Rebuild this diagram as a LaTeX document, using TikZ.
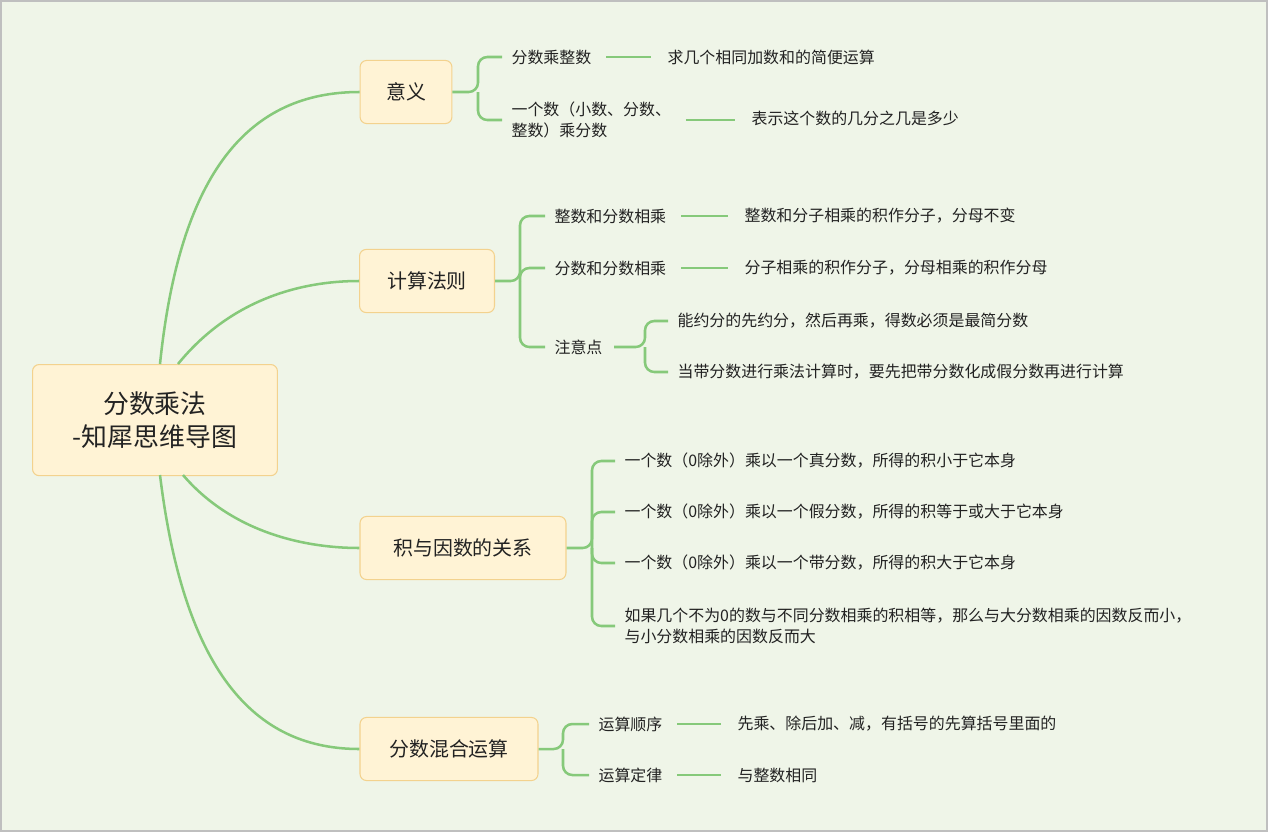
\documentclass[tikz,border=0pt]{standalone}
\usepackage{fontspec}
\setmainfont{Noto Sans CJK SC}
\begin{document}
\begin{tikzpicture}[x=0.02646cm,y=-0.02646cm,
  lnk/.style={draw=lg,line width=1.9pt},
  box/.style={draw=bd,fill=bx,rounded corners=5pt,line width=0.8pt,inner sep=0pt},
  leaf/.style={anchor=west,font=\fontsize{12pt}{15.5pt}\selectfont,text=tx,inner sep=1pt,align=left},
  brk/.style={lnk,rounded corners=7pt},
  brkc/.style={lnk,rounded corners=7pt,shorten >=6pt},
  dsh/.style={lnk,shorten <=10pt,shorten >=11pt}]
\definecolor{lg}{HTML}{86C97A}
\definecolor{bd}{HTML}{F3D28E}
\definecolor{bx}{HTML}{FFF3D5}
\definecolor{bgc}{HTML}{EFF5E8}
\definecolor{tx}{HTML}{222222}
\useasboundingbox (0,0) rectangle (1268,832);
\fill[bgc,draw=gray!50,line width=1pt] (1,1) rectangle (1267,831);
% root
\node[box,anchor=north west,minimum width=6.48cm,minimum height=2.94cm,align=center,font=\fontsize{19.5pt}{25pt}\selectfont,text=tx] (root) at (32,364) {分数乘法\\-知犀思维导图};
\coordinate (r1) at (160,364); \coordinate (r2) at (178,364);
\coordinate (r3) at (183,475); \coordinate (r4) at (160,475);
% level 1
\tikzset{l1/.style={box,minimum height=1.67cm,font=\fontsize{15pt}{18pt}\selectfont,text=tx}}
\node[l1,minimum width=2.43cm] (a) at (406,92) {意义};
\node[l1,minimum width=3.57cm] (b) at (427,281) {计算法则};
\node[l1,minimum width=5.45cm] (c) at (463,548) {积与因数的关系};
\node[l1,minimum width=4.71cm] (d) at (449,749) {分数混合运算};
\draw[lnk] (r1) .. controls (180,170) and (250,92) .. (a.west);
\draw[lnk] (r2) .. controls (230,300) and (300,281) .. (b.west);
\draw[lnk] (r3) .. controls (230,530) and (300,548) .. (c.west);
\draw[lnk] (r4) .. controls (185,680) and (260,749) .. (d.west);
% a
\node[leaf] (a1) at (510,57) {分数乘整数};
\node[leaf] (a1d) at (666,57) {求几个相同加数和的简便运算};
\node[leaf] (a2) at (510,120) {一个数（小数、分数、\\整数）乘分数};
\node[leaf] (a2d) at (750,118) {表示这个数的几分之几是多少};
\draw[brkc] (a.east) -- (478,92) |- (a1.west);
\draw[brkc] (478,92) |- (a2.west);
\draw[dsh] (a1.east) -- (a1d.west);
\draw[dsh] (a2.east) -- (a2d.west |- a2.east);
% b
\node[leaf] (b1) at (553,216) {整数和分数相乘};
\node[leaf] (b1d) at (743,216) {整数和分子相乘的积作分子，分母不变};
\node[leaf] (b2) at (553,268) {分数和分数相乘};
\node[leaf] (b2d) at (743,268) {分子相乘的积作分子，分母相乘的积作分母};
\node[leaf] (b3) at (553,347) {注意点};
\node[leaf] (b3a) at (676,321) {能约分的先约分，然后再乘，得数必须是最简分数};
\node[leaf] (b3b) at (676,372) {当带分数进行乘法计算时，要先把带分数化成假分数再进行计算};
\draw[brkc] (b.east) -- (520,281) |- (b1.west);
\draw[brkc] (520,281) |- (b2.west);
\draw[brkc] (520,281) |- (b3.west);
\draw[dsh] (b1.east) -- (b1d.west);
\draw[dsh] (b2.east) -- (b2d.west);
\draw[brkc] (b3.east) ++(10,0) -- (645,347) |- (b3a.west);
\draw[brkc] (645,347) |- (b3b.west);
% c
\node[leaf] (c1) at (623,461) {一个数（0除外）乘以一个真分数，所得的积小于它本身};
\node[leaf] (c2) at (623,512) {一个数（0除外）乘以一个假分数，所得的积等于或大于它本身};
\node[leaf] (c3) at (623,563) {一个数（0除外）乘以一个带分数，所得的积大于它本身};
\node[leaf] (c4) at (623,626) {如果几个不为0的数与不同分数相乘的积相等，那么与大分数相乘的因数反而小，\\与小分数相乘的因数反而大};
\draw[brkc] (c.east) -- (592,548) |- (c1.west);
\draw[brkc] (592,548) |- (c2.west);
\draw[brkc] (592,548) |- (c3.west);
\draw[brkc] (592,548) |- (c4.west);
% d
\node[leaf] (d1) at (597,724) {运算顺序};
\node[leaf] (d1d) at (736,724) {先乘、除后加、减，有括号的先算括号里面的};
\node[leaf] (d2) at (597,775) {运算定律};
\node[leaf] (d2d) at (736,775) {与整数相同};
\draw[brkc] (d.east) -- (563,749) |- (d1.west);
\draw[brkc] (563,749) |- (d2.west);
\draw[dsh] (d1.east) -- (d1d.west);
\draw[dsh] (d2.east) -- (d2d.west);
\end{tikzpicture}
\end{document}
